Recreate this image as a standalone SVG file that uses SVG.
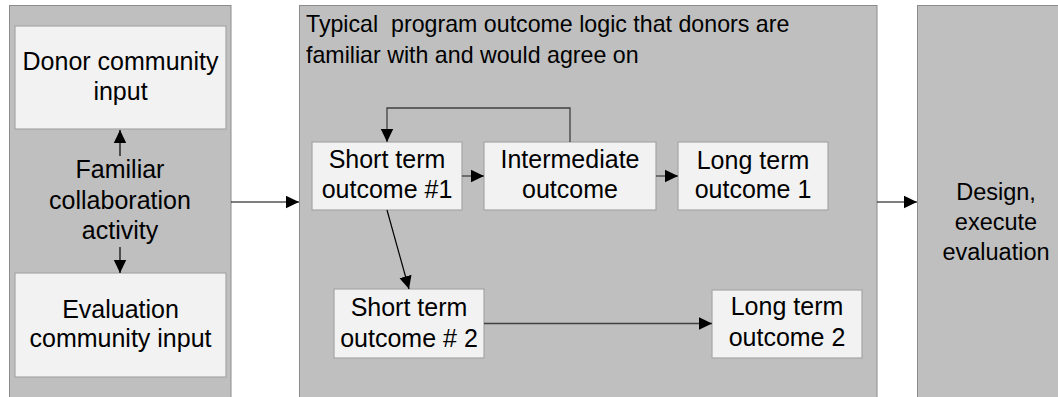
<svg xmlns="http://www.w3.org/2000/svg" width="1058" height="397" viewBox="0 0 1058 397">
<defs>
<style>
.panel{fill:#bfbfbf;stroke:#8c8c8c;stroke-width:1}
.box{fill:#f2f2f2;stroke:#a6a6a6;stroke-width:1.2}
.t{font-family:"Liberation Sans",Arial,sans-serif;font-size:25px;fill:#000;text-anchor:middle}
.tr{font-family:"Liberation Sans",Arial,sans-serif;font-size:23.5px;fill:#000;text-anchor:middle}
.tl{font-family:"Liberation Sans",Arial,sans-serif;font-size:23.2px;fill:#000;white-space:pre}
.c{fill:none;stroke:#404040;stroke-width:1.3}
.cb{fill:none;stroke:#000;stroke-width:1.2}
</style>
<marker id="ah" markerUnits="userSpaceOnUse" markerWidth="14" markerHeight="14" viewBox="0 0 14 14" refX="13" refY="7" orient="auto">
<path d="M0,0.8 L13,7 L0,13.2 Z" fill="#000"/>
</marker>
</defs>
<rect width="1058" height="397" fill="#ffffff"/>
<g id="panel-left">
<rect class="panel" x="9.5" y="5.5" width="221.5" height="400"/>
</g>
<g id="panel-middle">
<rect class="panel" x="299.5" y="5.5" width="577.5" height="400"/>
<text class="tl" x="306" y="32" xml:space="preserve">Typical  program outcome logic that donors are</text>
<text class="tl" x="306" y="63">familiar with and would agree on</text>
</g>
<g id="panel-right">
<rect class="panel" x="917.5" y="5.5" width="160" height="400"/>
<text class="tr" x="996" y="200">Design,</text>
<text class="tr" x="996" y="230">execute</text>
<text class="tr" x="996" y="260">evaluation</text>
</g>
<g id="donor">
<rect class="box" x="15" y="26" width="211" height="103"/>
<text class="t" x="120.5" y="70">Donor community</text>
<text class="t" x="120.5" y="100">input</text>
</g>
<g id="familiar">
<text class="t" x="120" y="178">Familiar</text>
<text class="t" x="120" y="208.5">collaboration</text>
<text class="t" x="120" y="239">activity</text>
</g>
<g id="evaluation">
<rect class="box" x="15" y="273" width="211" height="104"/>
<text class="t" x="120.5" y="318">Evaluation</text>
<text class="t" x="120.5" y="347">community input</text>
</g>
<g id="short1">
<rect class="box" x="312" y="142" width="150" height="68"/>
<text class="t" x="387" y="168">Short term</text>
<text class="t" x="387" y="198">outcome #1</text>
</g>
<g id="intermediate">
<rect class="box" x="484" y="142" width="172" height="68"/>
<text class="t" x="570" y="168">Intermediate</text>
<text class="t" x="570" y="198">outcome</text>
</g>
<g id="long1">
<rect class="box" x="678" y="142" width="150" height="68"/>
<text class="t" x="753" y="169">Long term</text>
<text class="t" x="753" y="198">outcome 1</text>
</g>
<g id="short2">
<rect class="box" x="334" y="289" width="150" height="69"/>
<text class="t" x="409" y="316">Short term</text>
<text class="t" x="409" y="347">outcome # 2</text>
</g>
<g id="long2">
<rect class="box" x="712" y="290" width="150" height="68"/>
<text class="t" x="787" y="315">Long term</text>
<text class="t" x="787" y="346">outcome 2</text>
</g>
<g id="connectors">
<line class="cb" x1="120" y1="156" x2="120" y2="130" marker-end="url(#ah)"/>
<line class="cb" x1="120" y1="247" x2="120" y2="273" marker-end="url(#ah)"/>
<line class="cb" x1="231" y1="202" x2="299" y2="202" marker-end="url(#ah)"/>
<line class="cb" x1="877" y1="202" x2="917" y2="202" marker-end="url(#ah)"/>
<line class="c" x1="462" y1="176" x2="484" y2="176" marker-end="url(#ah)"/>
<line class="c" x1="656" y1="176" x2="678" y2="176" marker-end="url(#ah)"/>
<polyline class="c" points="570,142 570,108 387,108 387,142" marker-end="url(#ah)"/>
<line class="cb" x1="387" y1="210" x2="409" y2="289" marker-end="url(#ah)"/>
<line class="c" x1="484" y1="323.5" x2="712" y2="323.5" marker-end="url(#ah)"/>
</g>
</svg>
